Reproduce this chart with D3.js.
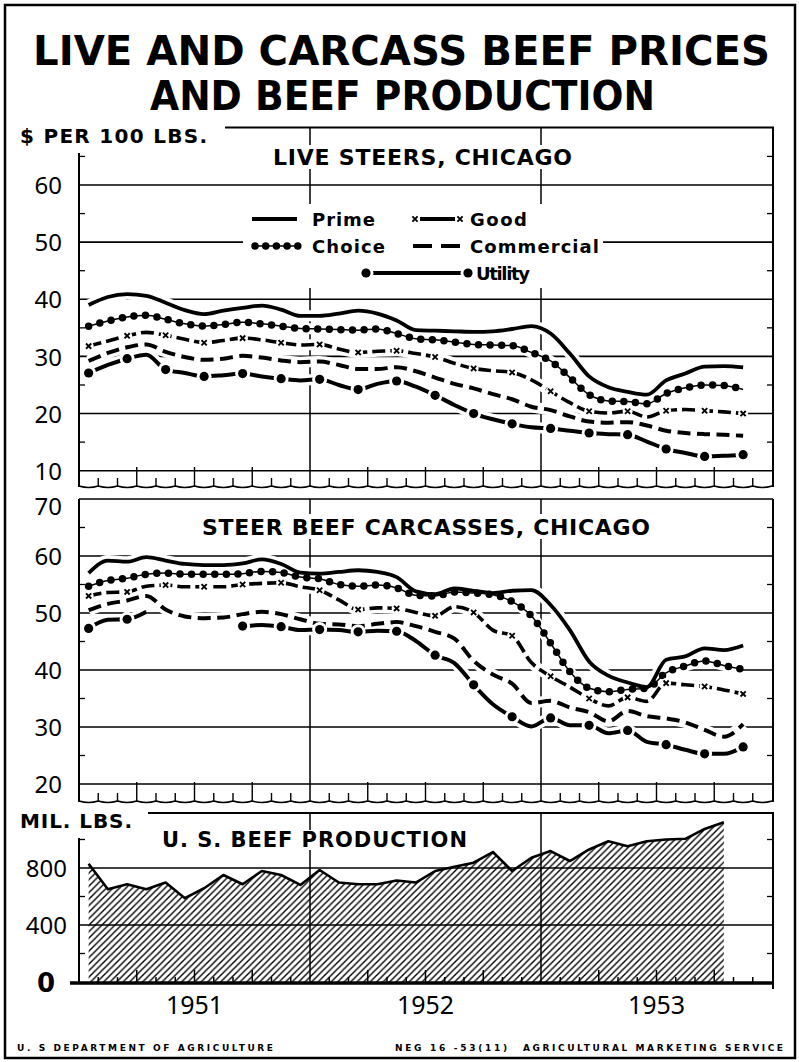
<!DOCTYPE html>
<html><head><meta charset="utf-8">
<script src="https://cdn.jsdelivr.net/npm/d3@7"></script>
<style>body{margin:0;background:#fff}svg{display:block}</style>
</head><body><svg id="c" width="799" height="1062"></svg>
<script>
// ---------------- DATA ----------------
const months = ["Jan 1951","Feb 1951","Mar 1951","Apr 1951","May 1951","Jun 1951","Jul 1951","Aug 1951","Sep 1951","Oct 1951","Nov 1951","Dec 1951",
"Jan 1952","Feb 1952","Mar 1952","Apr 1952","May 1952","Jun 1952","Jul 1952","Aug 1952","Sep 1952","Oct 1952","Nov 1952","Dec 1952",
"Jan 1953","Feb 1953","Mar 1953","Apr 1953","May 1953","Jun 1953","Jul 1953","Aug 1953","Sep 1953","Oct 1953","Nov 1953"];
const years = ["1951","1952","1953"];
const seriesNames = ["Prime","Choice","Good","Commercial","Utility"];

// Live steers, Chicago ($ per 100 lbs.)
const livePrime = [39.0,40.4,40.9,40.6,39.4,38.1,37.4,38.0,38.5,38.9,38.2,37.1,37.1,37.5,38.0,37.5,36.3,34.6,34.5,34.4,34.3,34.4,34.8,35.3,34.0,30.5,26.5,24.6,23.8,23.3,25.8,27.0,28.2,28.3,28.1];
const liveChoice = [35.3,36.2,36.9,37.2,36.5,35.7,35.3,35.6,36.0,35.7,35.3,34.9,34.8,34.7,34.6,34.8,34.0,33.1,32.9,32.5,32.1,32.0,31.9,30.7,29.2,26.3,23.3,22.2,22.1,21.7,23.5,24.5,25.0,24.9,24.2];
const liveGood = [31.8,32.7,33.6,34.2,33.7,33.0,32.4,32.8,33.2,32.9,32.4,32.0,32.1,31.3,30.7,30.9,31.0,30.5,29.9,28.8,27.9,27.5,27.2,25.9,23.9,21.9,20.4,20.1,20.4,19.4,20.5,20.7,20.5,20.3,20.0];
const liveCommercial = [29.2,30.6,31.6,32.1,30.8,29.9,29.4,29.6,30.1,29.8,29.3,29.0,29.1,28.5,27.8,27.8,28.1,27.4,26.3,25.2,24.4,23.4,22.5,21.2,20.6,19.5,18.6,18.4,18.5,17.9,17.0,16.6,16.4,16.3,16.1];
const liveUtility = [27.1,28.5,29.6,30.3,27.7,27.1,26.5,26.7,27.0,26.5,26.1,25.8,26.0,25.0,24.2,25.2,25.7,24.7,23.2,21.5,20.0,19.0,18.2,17.6,17.4,17.0,16.6,16.4,16.3,15.1,13.8,13.1,12.5,12.6,12.8];

// Steer beef carcasses, Chicago ($ per 100 lbs.)
const carcPrime = [57.0,59.2,59.0,59.8,59.2,58.6,58.4,58.4,58.7,59.4,58.6,57.1,56.9,57.2,57.5,57.2,56.3,53.8,53.3,54.3,53.9,53.5,53.9,54.0,51.4,47.0,41.5,39.0,37.8,37.0,41.8,42.4,43.8,43.5,44.3];
const carcChoice = [54.7,55.7,56.1,56.8,57.0,56.8,56.8,56.8,56.9,57.3,57.1,56.3,56.0,55.0,54.7,54.9,54.4,53.1,53.0,53.7,53.5,53.2,52.0,49.5,44.7,39.7,36.8,36.2,36.6,36.8,39.5,40.7,41.6,40.8,40.1];
const carcGood = [53.0,53.6,53.7,54.7,54.9,54.6,54.6,54.6,55.0,55.2,55.3,54.6,54.0,52.3,50.6,50.9,50.8,50.1,49.5,51.1,50.1,47.0,46.0,41.3,38.9,37.0,35.0,33.7,35.2,34.5,37.7,37.4,37.1,36.5,35.8];
const carcCommercial = [50.5,51.6,52.2,53.0,50.6,49.4,49.1,49.2,49.8,50.2,49.8,48.9,48.1,48.0,47.7,48.1,48.4,47.7,46.7,45.5,41.6,39.2,37.6,34.2,34.6,33.4,32.6,31.0,32.8,31.9,31.5,30.8,29.5,28.3,30.5];
const carcUtility = [47.3,48.8,48.9,50.2,null,null,null,null,47.7,47.9,47.6,47.0,47.1,47.0,46.7,46.9,46.8,45.1,42.6,41.2,37.4,34.0,31.8,30.1,31.6,30.3,30.3,28.9,29.4,27.4,26.9,26.0,25.3,25.3,26.5];

// U.S. beef production (mil. lbs.), Jan 1951 - Oct 1953
const production = [830,651,686,651,698,588,658,751,686,779,751,681,786,698,686,686,712,698,779,809,837,912,779,872,919,849,930,988,953,988,1000,1005,1074,1121];

const liveTicks = [10,20,30,40,50,60];
const carcTicks = [20,30,40,50,60,70];
const prodTicks = [400,800];

// ---------------- SCALES ----------------
const svg = d3.select("#c");
const FONT = "'DejaVu Sans', sans-serif";
const NUMFONT = "'Noto Sans', 'DejaVu Sans', sans-serif";
svg.append("rect").attr("width",799).attr("height",1062).attr("fill","#fff");

const X0 = 79, X1 = 772;
const x = d3.scaleLinear().domain([0,36]).range([X0,X1]);
const cx = i => x(i+0.5);
const yL = d3.scaleLinear().domain([10,60]).range([470.7,185]);
const yC = d3.scaleLinear().domain([20,70]).range([784,499]);
const yP = d3.scaleLinear().domain([0,800]).range([982,868]);

// hatch pattern
const defs = svg.append("defs");
const pat = defs.append("pattern").attr("id","hatch").attr("patternUnits","userSpaceOnUse")
  .attr("width",6.5).attr("height",6.5);
pat.append("path").attr("d","M-1,1 L1,-1 M0,6.5 L6.5,0 M5.5,7.5 L7.5,5.5")
  .attr("stroke","#000").attr("stroke-width",1.4);

// outer frame
svg.append("rect").attr("x",5).attr("y",5).attr("width",790).attr("height",1053)
  .attr("fill","none").attr("stroke","#000").attr("stroke-width",2.5);

function label(s, x0, y0, size, len, opts={}) {
  const t = svg.append("text").attr("x",x0).attr("y",y0).text(s)
    .attr("font-family",opts.family||FONT).attr("font-size",size)
    .attr("font-weight",opts.weight||"bold").attr("fill","#000");
  if (opts.anchor) t.attr("text-anchor",opts.anchor);
  if (len) t.attr("textLength",len).attr("lengthAdjust",opts.adjust||"spacing");
  return t;
}

// Title
label("LIVE AND CARCASS BEEF PRICES", 33, 65, 40, 737, {adjust:"spacingAndGlyphs"});
label("AND BEEF PRODUCTION", 150, 110, 40, 505, {adjust:"spacingAndGlyphs"});

// wavy break line
function wave(yb, amp) {
  let p = `M${x(0)},${yb}`;
  for (let k=0;k<36;k++) p += ` Q${(x(k)+x(k+1))/2},${yb+amp} ${x(k+1)},${yb}`;
  return p;
}

function line(x1,y1,x2,y2,w){
  svg.append("line").attr("x1",x1).attr("y1",y1).attr("x2",x2).attr("y2",y2)
    .attr("stroke","#000").attr("stroke-width",w||1.5);
}

// ---------------- PRICE PANEL ----------------
function pricePanel(cfg) {
  const y = cfg.y;
  cfg.ticks.forEach(v => line(X0, y(v), X1+1, y(v), 1.6));
  cfg.minor.forEach(v => { line(X0, y(v), X0+6, y(v), 1.3); line(X1-5, y(v), X1+1, y(v), 1.3); });
  [12,24].forEach(k => line(x(k), cfg.top, x(k), cfg.waveY, 1.5));
  line(X0, cfg.axisTop, X0, cfg.waveY+1, 2);
  line(X1+1, cfg.top, X1+1, cfg.waveY+1, 2);
  svg.append("path").attr("d",wave(cfg.waveY,3)).attr("fill","none").attr("stroke","#000").attr("stroke-width",1.6);
  d3.range(1,36).forEach(k => {
    if (k%12===0) return;
    const top = (k%3===0) ? cfg.waveY-19 : cfg.waveY-8;
    line(x(k), cfg.waveY+1, x(k), top, 1.4);
  });
  const ax = d3.axisLeft(y).tickValues(cfg.ticks).tickSize(0).tickPadding(17).tickFormat(d3.format("d"));
  const ag = svg.append("g").attr("transform",`translate(${X0},0)`).call(ax);
  ag.select(".domain").remove();
  ag.selectAll("text").attr("font-family",NUMFONT).attr("font-size",24).attr("fill","#000")
    .attr("dy", d => (d===cfg.topLabel ? "0.66em" : "0.36em"));

  const mk = d3.line().defined(d => d!=null).x((d,i)=>cx(i)).y(d=>y(d)).curve(d3.curveMonotoneX);
  const S = cfg.series;
  S.forEach(s => svg.append("path").attr("d",mk(s)).attr("fill","none").attr("stroke","#fff")
    .attr("stroke-width",11).attr("stroke-linejoin","round"));
  svg.append("path").attr("d",mk(S[0])).attr("fill","none").attr("stroke","#000").attr("stroke-width",3.8).attr("stroke-linejoin","round");
  svg.append("path").attr("d",mk(S[1])).attr("fill","none").attr("stroke","#000").attr("stroke-width",1.5);
  svg.append("path").attr("d",mk(S[1])).attr("fill","none").attr("stroke","#000").attr("stroke-width",7.5)
    .attr("stroke-linecap","round").attr("stroke-dasharray","0 11.6");
  svg.append("path").attr("d",mk(S[2])).attr("fill","none").attr("stroke","#000").attr("stroke-width",3.6)
    .attr("stroke-dasharray","13 5");
  S[2].forEach((v,i) => { if (i%2===0 && v!=null) xMark(cx(i), y(v)); });
  svg.append("path").attr("d",mk(S[3])).attr("fill","none").attr("stroke","#000").attr("stroke-width",4)
    .attr("stroke-dasharray","13 6.5");
  svg.append("path").attr("d",mk(S[4])).attr("fill","none").attr("stroke","#000").attr("stroke-width",4);
  S[4].forEach((v,i) => { if (i%2===0 && v!=null) bigDot(cx(i), y(v)); });
}

function xMark(px,py){
  svg.append("circle").attr("cx",px).attr("cy",py).attr("r",5).attr("fill","#fff");
  svg.append("path").attr("d",`M${px-2.6},${py-2.6}L${px+2.6},${py+2.6}M${px-2.6},${py+2.6}L${px+2.6},${py-2.6}`)
    .attr("stroke","#000").attr("stroke-width",1.9);
}
function bigDot(px,py){
  svg.append("circle").attr("cx",px).attr("cy",py).attr("r",7.5).attr("fill","#fff");
  svg.append("circle").attr("cx",px).attr("cy",py).attr("r",4.6).attr("fill","#000");
}

// ---------- Top panel: Live steers ----------
label("$ PER 100 LBS.", 20, 143, 20, 187);
line(225, 127.5, X1+2, 127.5, 1.8);
pricePanel({y:yL, ticks:liveTicks, minor:[15,25,35,45,55,65], top:127.5, axisTop:153, waveY:486,
  series:[livePrime,liveChoice,liveGood,liveCommercial,liveUtility]});
svg.append("rect").attr("x",266).attr("y",145).attr("width",313).attr("height",24).attr("fill","#fff");
label("LIVE STEERS, CHICAGO", 273, 165, 22, 299);

// legend
svg.append("rect").attr("x",243).attr("y",204).attr("width",360).attr("height",84).attr("fill","#fff");
line(252,219,297,219,4.2);
label(seriesNames[0], 312, 226, 18, 63);
svg.append("line").attr("x1",255).attr("y1",246).attr("x2",297).attr("y2",246).attr("stroke","#000").attr("stroke-width",1.5);
svg.append("line").attr("x1",255).attr("y1",246).attr("x2",298).attr("y2",246).attr("stroke","#000").attr("stroke-width",7.5)
  .attr("stroke-linecap","round").attr("stroke-dasharray","0 10.7");
label(seriesNames[1], 312, 253, 18, 73);
line(420,219,455,219,4);
xMark(415,219); xMark(460,219);
label(seriesNames[2], 470, 226, 18, 57);
svg.append("line").attr("x1",413).attr("y1",246).attr("x2",461).attr("y2",246).attr("stroke","#000").attr("stroke-width",4)
  .attr("stroke-dasharray","19 9");
label(seriesNames[3], 470, 253, 18, 129);
line(366,273,468,273,4);
bigDot(366,273); bigDot(468,273);
label(seriesNames[4], 476, 280, 18, 54);

// ---------- Middle panel: Steer beef carcasses ----------
pricePanel({y:yC, ticks:carcTicks, minor:[25,35,45,55,65], top:499, axisTop:499, waveY:801, topLabel:70,
  series:[carcPrime,carcChoice,carcGood,carcCommercial,carcUtility]});
svg.append("rect").attr("x",196).attr("y",514).attr("width",460).attr("height",25).attr("fill","#fff");
label("STEER BEEF CARCASSES, CHICAGO", 202, 535, 22, 448);

// ---------- Bottom panel: Beef production ----------
label("MIL. LBS.", 20, 828, 20, 112);
line(148, 813, X1+2, 813, 1.8);
prodTicks.forEach(v => line(X0, yP(v), X1+1, yP(v), 1.6));
[200,600,1000].forEach(v => { line(X0, yP(v), X0+6, yP(v), 1.3); line(X1-5, yP(v), X1+1, yP(v), 1.3); });
[12,24].forEach(k => line(x(k), 813, x(k), 983, 1.5));
line(X0, 838, X0, 983, 2);
line(X1+1, 813, X1+1, 989, 2);

const area = d3.area().x((d,i)=>cx(i)).y0(yP(0)).y1(d=>yP(d)).curve(d3.curveLinear);
const topLine = d3.line().x((d,i)=>cx(i)).y(d=>yP(d)).curve(d3.curveLinear);
svg.append("path").attr("d",area(production)).attr("fill","url(#hatch)");
svg.append("path").attr("d",topLine(production)).attr("fill","none").attr("stroke","#000").attr("stroke-width",2.6).attr("stroke-linejoin","round");
svg.append("rect").attr("x",160).attr("y",830).attr("width",312).attr("height",20).attr("fill","#fff");
label("U. S. BEEF PRODUCTION", 162, 847, 21, 305);
d3.range(1,36).forEach(k => {
  if (k%12===0) return;
  line(x(k), 983, x(k), (k%3===0)?970:977, 1.5);
});
line(70, 983, X1+2, 983, 3.5);
const pax = d3.axisLeft(yP).tickValues(prodTicks).tickSize(0).tickPadding(12).tickFormat(d3.format("d"));
const pg = svg.append("g").attr("transform",`translate(${X0},0)`).call(pax);
pg.select(".domain").remove();
pg.selectAll("text").attr("font-family",NUMFONT).attr("font-size",24).attr("fill","#000").attr("dy","0.36em");
label("0", 46, 992, 26, null, {anchor:"middle"});

// x axis (year labels)
const xa = d3.axisBottom(d3.scaleBand().domain(years).range([X0,X1])).tickSize(0).tickPadding(0);
const xg = svg.append("g").attr("transform","translate(0,996)").call(xa);
xg.select(".domain").remove();
xg.selectAll("text").attr("font-family",NUMFONT).attr("font-size",25).attr("fill","#000").attr("dy","0.71em");

// footer
label("U. S  DEPARTMENT  OF  AGRICULTURE", 17, 1051, 9, 256);
label("NEG  16 -53(11)", 395, 1051, 9, 112);
label("AGRICULTURAL  MARKETING  SERVICE", 523, 1051, 9, 260);
</script></body></html>
